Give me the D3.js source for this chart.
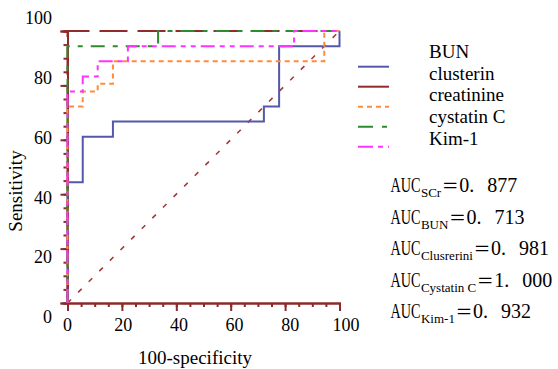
<!DOCTYPE html>
<html lang="en">
<head>
  <meta charset="UTF-8">
  <title>ROC curves</title>
  <style type="text/css">
    body{
      margin: 0;
      background: #fff;
    }
    svg text{
      font-family: "Liberation Serif", "DejaVu Serif", serif;
      fill: #000;
    }
    .tick-label{
      font-size: 18px;
    }
    .title{
      font-size: 19px;
    }
    .legend text{
      font-size: 19px;
    }
    .auc text{
      font-size: 20px;
    }
  </style>
  <script src="https://cdnjs.cloudflare.com/ajax/libs/d3/7.8.5/d3.min.js"></script>
</head>
<body>
<script type="text/javascript">
  // tick values
  var xTicks = [0, 20, 40, 60, 80, 100];
  var yTicks = [0, 20, 40, 60, 80, 100];

  // roc vertices (100-specificity, sensitivity)
  var bun = [[0, 0], [0, 44.4], [5.6, 61.1], [16.7, 66.7], [72.2, 72.2], [77.8, 94.4], [100, 100]];
  var clusterin = [[0, 0], [0, 100], [100, 100]];
  var creatinine = [[0, 0], [0, 72.2], [5.6, 77.8], [11.1, 80.6], [16.7, 88.9], [94.4, 100], [100, 100]];
  var cystatin = [[0, 0], [0, 94.4], [33.3, 100], [100, 100]];
  var kim1 = [[0, 0], [0, 77.8], [5.6, 83.3], [11.1, 88.9], [22.2, 94.4], [83.3, 100], [100, 100]];
  var reference = [[0, 0], [100, 100]];

  var legendNames = ['BUN', 'clusterin', 'creatinine', 'cystatin C', 'Kim-1'];

  var aucNames = ['SCr', 'BUN', 'Clusrerini', 'Cystatin C', 'Kim-1'];
  var aucValues = ['0. 877', '0. 713', '0. 981', '1. 000', '0. 932'];

  var series = [
    {values: bun, color: '#5558aa', dash: null},
    {values: clusterin, color: '#922b2b', dash: '28,10'},
    {values: creatinine, color: '#ff8c3a', dash: '5,4'},
    {values: cystatin, color: '#2e8b2e', dash: '14,8,5,8'},
    {values: kim1, color: '#ff33ff', dash: '14,5,5,5,5,5'}
  ];
  var legendDash = [null, null, '5,4', '15,9,5,9', '15,5,5,5,5,5'];

  var width = 558, height = 369;

  var svg = d3.select('body')
    .append('svg')
    .attr('width', width)
    .attr('height', height);

  svg.append('rect')
    .attr('width', width)
    .attr('height', height)
    .attr('fill', '#fff');

  var x = d3.scaleLinear().domain([0, 100]).range([67.5, 339.5]);
  var y = d3.scaleLinear().domain([0, 100]).range([303, 31]);

  // tick labels in the picture are not quite on the ticks
  var xLab = d3.scaleLinear().domain([0, 100]).range([67.5, 346]);
  var yLab = d3.scaleLinear().domain([0, 100]).range([317, 17.5]);

  var axisColor = '#8b2a2a';

  // x axis
  var gx = svg.append('g')
    .attr('transform', 'translate(0,303)');
  gx.call(d3.axisBottom(x).tickValues(d3.range(0, 101, 5)).tickSize(4).tickFormat(''));
  gx.append('g').call(d3.axisBottom(x).tickValues(xTicks).tickSize(8).tickFormat(''));

  // y axis
  var gy = svg.append('g')
    .attr('transform', 'translate(67.5,0)');
  gy.call(d3.axisLeft(y).tickValues(d3.range(0, 101, 5)).tickSize(4).tickFormat(''));
  gy.append('g').call(d3.axisLeft(y).tickValues(yTicks).tickSize(7).tickFormat(''));

  svg.selectAll('.domain')
    .attr('stroke', axisColor)
    .attr('stroke-width', 2);
  svg.selectAll('.tick line')
    .attr('stroke', axisColor)
    .attr('stroke-width', 2);

  svg.selectAll('.xlab')
    .data(xTicks)
    .enter().append('text')
    .attr('class', 'tick-label')
    .attr('x', function(d){ return xLab(d); })
    .attr('y', 331)
    .attr('text-anchor', 'middle')
    .text(function(d){ return d; });

  svg.selectAll('.ylab')
    .data(yTicks)
    .enter().append('text')
    .attr('class', 'tick-label')
    .attr('x', 52)
    .attr('y', function(d){ return yLab(d); })
    .attr('dy', '0.35em')
    .attr('text-anchor', 'end')
    .text(function(d){ return d; });

  svg.append('text')
    .attr('class', 'title')
    .attr('x', 195)
    .attr('y', 364)
    .attr('text-anchor', 'middle')
    .text('100-specificity');

  svg.append('text')
    .attr('class', 'title')
    .attr('transform', 'translate(22,191) rotate(-90)')
    .attr('text-anchor', 'middle')
    .text('Sensitivity');

  // reference diagonal
  var line = d3.line()
    .x(function(d){ return x(d[0]); })
    .y(function(d){ return y(d[1]); });

  svg.append('path')
    .attr('d', line(reference))
    .attr('fill', 'none')
    .attr('stroke', '#a33a3a')
    .attr('stroke-width', 1.6)
    .attr('stroke-dasharray', '5,10');

  var stepLine = d3.line()
    .x(function(d){ return x(d[0]); })
    .y(function(d){ return y(d[1]); })
    .curve(d3.curveStepAfter);

  svg.selectAll('.roc')
    .data(series)
    .enter().append('path')
    .attr('class', 'roc')
    .attr('d', function(d){ return stepLine(d.values); })
    .attr('fill', 'none')
    .attr('stroke', function(d){ return d.color; })
    .attr('stroke-width', 2)
    .attr('stroke-dasharray', function(d){ return d.dash; });

  // legend: labels sit one row above their swatches in the picture
  var legend = svg.append('g').attr('class', 'legend');

  legend.selectAll('line')
    .data(series)
    .enter().append('line')
    .attr('x1', 358)
    .attr('x2', 389)
    .attr('y1', function(d, i){ return 66.7 + i * 20; })
    .attr('y2', function(d, i){ return 66.7 + i * 20; })
    .attr('stroke', function(d){ return d.color; })
    .attr('stroke-width', 2)
    .attr('stroke-dasharray', function(d, i){ return legendDash[i]; });

  legend.selectAll('text')
    .data(legendNames)
    .enter().append('text')
    .attr('x', 429)
    .attr('y', function(d, i){ return 57.7 + i * 21.8; })
    .text(function(d){ return d; });

  // AUC notes, each piece placed after the one before it
  var auc = svg.append('g').attr('class', 'auc');
  aucNames.forEach(function(name, i){
    var by = 192 + i * 31.5;
    var cx = 390.5;
    var sx = 0.71;

    var a = auc.append('text')
      .attr('transform', 'translate(' + cx + ',' + by + ') scale(' + sx + ',1)')
      .text('AUC');
    cx += a.node().getComputedTextLength() * sx + 0.5;

    var s = auc.append('text')
      .attr('x', cx)
      .attr('y', by + 5)
      .style('font-size', '13px')
      .text(name);
    cx += s.node().getComputedTextLength() + 0.5;

    var e = auc.append('text')
      .attr('x', cx)
      .attr('y', by)
      .style('font-family', '"Noto Sans CJK SC"')
      .style('font-size', '17px')
      .text('\uFF1D');
    cx += e.node().getComputedTextLength() + 0.5;

    auc.append('text')
      .attr('x', cx)
      .attr('y', by)
      .style('word-spacing', '8px')
      .text(aucValues[i]);
  });
</script>
</body>
</html>
